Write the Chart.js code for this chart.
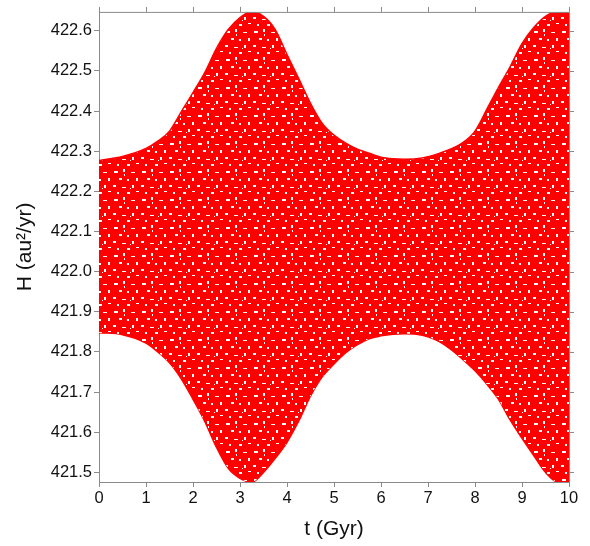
<!DOCTYPE html>
<html>
<head>
<meta charset="utf-8">
<script src="https://cdn.jsdelivr.net/npm/chart.js@4/dist/chart.umd.min.js"></script>
<style>
  html, body { margin: 0; padding: 0; background: #fff; }
  #wrap { width: 590px; height: 546px; }
</style>
</head>
<body>
<div id="wrap"><canvas id="hChart" width="590" height="546"></canvas></div>
<script>
// envelope of H(t)
const timeGyr = [0, 0.5, 1.0, 1.25, 1.5, 1.75, 2.0, 2.25, 2.5, 2.75, 3.0, 3.25, 3.5, 3.75,
    4.0, 4.25, 4.5, 4.75, 5.0, 5.25, 5.5, 5.75, 6.0, 6.25, 6.5, 6.75, 7.0, 7.25,
    7.5, 7.75, 8.0, 8.25, 8.5, 8.75, 9.0, 9.25, 9.5, 9.75, 10];
const hUpper = [422.277, 422.287, 422.307, 422.325, 422.350, 422.398, 422.446, 422.496, 422.556, 422.603,
    422.633, 422.648, 422.636, 422.603, 422.541, 422.481, 422.419, 422.369, 422.340, 422.320,
    422.305, 422.295, 422.285, 422.281, 422.280, 422.281, 422.286, 422.295, 422.306, 422.322,
    422.350, 422.404, 422.459, 422.511, 422.568, 422.608, 422.636, 422.648, 422.645];
const hLower = [421.848, 421.843, 421.822, 421.800, 421.773, 421.733, 421.682, 421.627, 421.562, 421.510,
    421.485, 421.475, 421.500, 421.535, 421.575, 421.628, 421.690, 421.738, 421.770, 421.798,
    421.818, 421.833, 421.840, 421.844, 421.845, 421.844, 421.838, 421.825, 421.805, 421.780,
    421.753, 421.720, 421.682, 421.630, 421.585, 421.542, 421.500, 421.476, 421.474];
const xTicks = [0, 1, 2, 3, 4, 5, 6, 7, 8, 9, 10];
const yTicks = [421.5, 421.6, 421.7, 421.8, 421.9, 422.0, 422.1, 422.2, 422.3, 422.4, 422.5, 422.6];

const axisGray = '#8a8a8a';
const fontFam = '"Liberation Sans", Arial, sans-serif';

// speckled red fill, like the overplotted points
function speckle() {
    const c = document.createElement('canvas');
    c.width = 28; c.height = 28;
    const g = c.getContext('2d');
    g.fillStyle = '#ff0000';
    g.fillRect(0, 0, 28, 28);
    g.fillStyle = '#ffffff';
    const flecks = [[2, 3, 4, 2], [11, 1, 2, 3], [19, 4, 4, 1], [24, 10, 2, 3], [7, 10, 3, 2],
        [15, 11, 2, 2], [1, 17, 3, 2], [10, 19, 4, 1], [20, 17, 2, 3], [5, 24, 2, 2],
        [15, 24, 3, 2], [24, 23, 3, 1], [12, 6, 1, 2], [18, 20, 1, 1]];
    flecks.forEach(f => g.fillRect(f[0], f[1], f[2], f[3]));
    return g.createPattern(c, 'repeat');
}

const toPts = arr => arr.map((v, i) => ({ x: timeGyr[i], y: v }));

const framePlugin = {
    id: 'frame',
    afterDraw(chart) {
        const { ctx, chartArea: a, scales } = chart;
        ctx.save();
        ctx.strokeStyle = axisGray;
        ctx.lineWidth = 1;
        ctx.beginPath();
        ctx.moveTo(a.left, a.top + 0.5);
        ctx.lineTo(a.right + 0.5, a.top + 0.5);
        ctx.lineTo(a.right + 0.5, a.bottom);
        xTicks.forEach(t => {
            const px = Math.round(scales.x.getPixelForValue(t)) + 0.5;
            ctx.moveTo(px, a.top);
            ctx.lineTo(px, a.top - 5);
        });
        yTicks.forEach(v => {
            const py = Math.round(scales.y.getPixelForValue(v)) + 0.5;
            ctx.moveTo(a.right, py);
            ctx.lineTo(a.right + 5, py);
        });
        ctx.stroke();
        ctx.restore();
    }
};

const ctx = document.getElementById('hChart').getContext('2d');
const fillPattern = speckle();

new Chart(ctx, {
    type: 'line',
    data: {
        datasets: [{
            label: 'upper',
            data: toPts(hUpper),
            borderColor: '#ff0000',
            borderWidth: 1.5,
            backgroundColor: fillPattern,
            fill: '+1',
            pointRadius: 0,
            cubicInterpolationMode: 'monotone'
        }, {
            label: 'lower',
            data: toPts(hLower),
            borderColor: '#ff0000',
            borderWidth: 1.5,
            fill: false,
            pointRadius: 0,
            cubicInterpolationMode: 'monotone'
        }]
    },
    options: {
        responsive: false,
        animation: false,
        layout: { padding: { top: 10, right: 21, left: 0, bottom: 0 } },
        plugins: { legend: { display: false }, tooltip: { enabled: false } },
        scales: {
            x: {
                type: 'linear',
                min: 0,
                max: 10,
                afterFit: s => { s.height = 64; },
                afterBuildTicks: s => { s.ticks = xTicks.map(v => ({ value: v })); },
                border: { color: axisGray, width: 1 },
                grid: { drawOnChartArea: false, tickLength: 5, tickColor: axisGray },
                ticks: {
                    color: '#111',
                    padding: 2,
                    maxRotation: 0,
                    font: { family: fontFam, size: 16.5 },
                    callback: v => String(v)
                },
                title: {
                    display: true,
                    text: 't (Gyr)',
                    color: '#111',
                    font: { family: fontFam, size: 21 },
                    padding: { top: 0, bottom: 4 }
                }
            },
            y: {
                type: 'linear',
                min: 421.476,
                max: 422.647,
                afterFit: s => { s.width = 99; },
                afterBuildTicks: s => { s.ticks = yTicks.map(v => ({ value: v })); },
                border: { color: axisGray, width: 1 },
                grid: { drawOnChartArea: false, tickLength: 5, tickColor: axisGray },
                ticks: {
                    color: '#111',
                    padding: 2,
                    font: { family: fontFam, size: 16.5 },
                    callback: v => v.toFixed(1)
                },
                title: {
                    display: true,
                    text: 'H (au²/yr)',
                    color: '#111',
                    font: { family: fontFam, size: 21 },
                    padding: { top: 13, bottom: 0 }
                }
            }
        }
    },
    plugins: [framePlugin]
});
</script>
</body>
</html>
